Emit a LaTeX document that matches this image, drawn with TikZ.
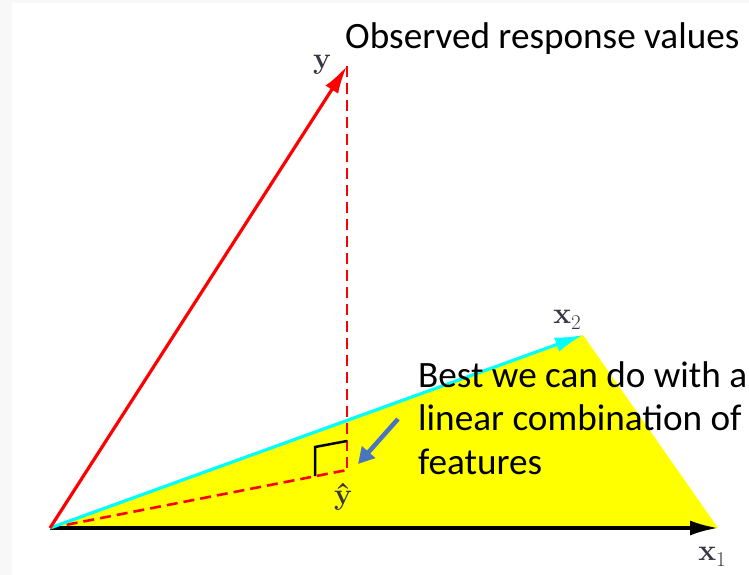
\documentclass[tikz,border=0pt]{standalone}
\usepackage{fontspec}
\newfontfamily\calfont{Carlito}
\usetikzlibrary{arrows.meta}
\definecolor{panelgray}{RGB}{248,248,248}
\definecolor{labelgray}{RGB}{55,55,68}
\definecolor{pointblue}{RGB}{72,116,192}
\definecolor{vecred}{RGB}{255,0,0}
\definecolor{veccyan}{RGB}{0,255,255}
\definecolor{planeyellow}{RGB}{255,255,0}
\newcommand{\subidx}[1]{\raisebox{-6.5pt}{\fontsize{21}{21}\selectfont\mdseries #1}}
\tikzset{
  vecline/.style={line width=3.2pt},
  vectip/.style={-{Latex[length=28pt,width=15pt]}},
  projline/.style={vecred, line width=2.6pt, dash pattern=on 11pt off 6pt},
  veclabel/.style={text=labelgray, inner sep=0pt, font=\fontsize{30}{32}\selectfont\bfseries},
  note/.style={inner sep=0pt, anchor=base west, font=\calfont\fontsize{37.2}{44}\selectfont}
}
\begin{document}
\begin{tikzpicture}[x=1pt,y=-1pt]
  % page background and white panel
  \fill[panelgray] (0,0) rectangle (749,575);
  \fill[white] (12,3) rectangle (749,575);
  \useasboundingbox (0,0) rectangle (749,575);

  % key points
  \coordinate (O) at (50,528);
  \coordinate (Y) at (347,66);
  \coordinate (X1) at (718,528);
  \coordinate (X2) at (583,335);
  \coordinate (Yhat) at (347,470);

  % plane spanned by the features
  \fill[planeyellow] (O) -- (X2) -- (X1) -- cycle;

  % projection of y onto the plane
  \draw[projline] (O) -- (Yhat);
  \draw[projline] (Y) -- (Yhat);

  % right-angle mark
  \coordinate (ra1) at (315,476);
  \coordinate (ra2) at (315,447);
  \coordinate (ra3) at (347,441);
  \draw[black, line width=2.5pt] (ra1) -- (ra2) -- (ra3);

  % feature vectors and response vector
  \draw[vecline, black, vectip] (O) -- (X1);
  \draw[vecline, veccyan, vectip] (O) -- (X2);
  \draw[vecline, vecred, vectip] (O) -- (Y);

  % pointer to the fitted values
  \coordinate (ptail) at (398,419);
  \coordinate (phead) at (358,464);
  \draw[pointblue, line width=4.5pt, -{Triangle[length=16pt,width=17pt]}] (ptail) -- (phead);

  % vector labels
  \node[veclabel] (ly) at (322,65) {y};
  \node[veclabel] (lx1) at (712,557) {x\subidx{1}};
  \node[veclabel] (lx2) at (567,320) {x\subidx{2}};
  \node[veclabel] (lyhat) at (343,497) {ŷ};

  % annotations
  \node[note] (obs) at (345,49) {Observed response values};
  \node[note] (best1) at (418,387) {Best we can do with a};
  \node[note] (best2) at (418,430) {linear combination of};
  \node[note] (best3) at (418,474) {features};
\end{tikzpicture}
\end{document}
